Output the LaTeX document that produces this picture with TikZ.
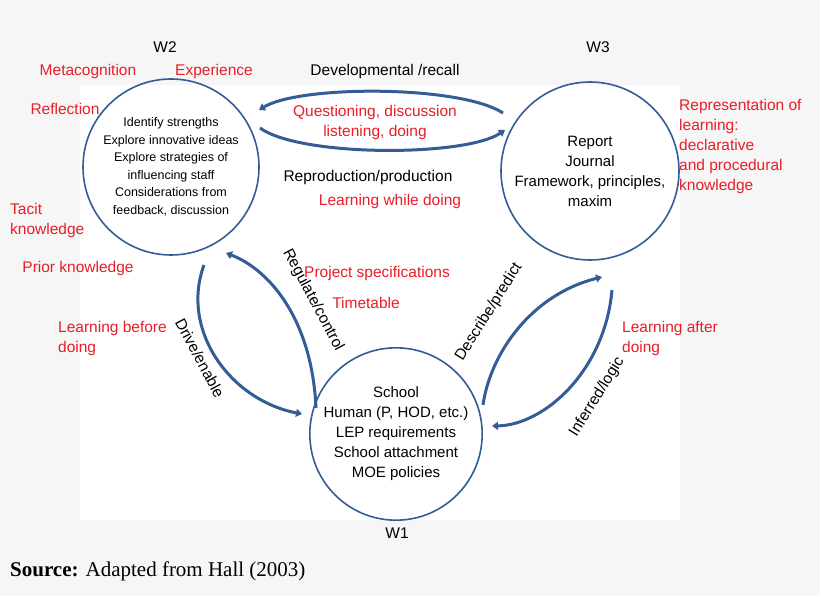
\documentclass[tikz,border=0pt]{standalone}
\usepackage{fontspec}
\setmainfont{Liberation Sans}
\newfontfamily\srcfont{Liberation Serif}
\usetikzlibrary{arrows.meta}
\definecolor{rd}{RGB}{232,30,40}
\definecolor{bl}{RGB}{52,92,150}
\begin{document}
\begin{tikzpicture}[x=1pt,y=-1pt,
  circ/.style={draw=bl,line width=1.6pt,circle,minimum size=#1,inner sep=0pt,align=center},
  lab/.style={font=\fontsize{15.5}{20}\selectfont,inner sep=0pt},
  rlab/.style={lab,text=rd},
  band/.style={draw=bl,line width=3pt,-{Triangle[width=8pt,length=6pt]}}]
\useasboundingbox (0,0) rectangle (820,596);
\fill[gray!7] (0,0) rectangle (820,596);
\fill[white] (80,85) rectangle (680,520);
\node[circ=176pt,font=\fontsize{12.5}{17.5}\selectfont] (w2) at (171,167) {Identify strengths\\Explore innovative ideas\\Explore strategies of\\influencing staff\\Considerations from\\feedback, discussion};
\node[circ=178pt,font=\fontsize{15}{20}\selectfont] (w3) at (590,171) {Report\\Journal\\Framework, principles,\\maxim};
\node[circ=170pt,font=\fontsize{15}{20}\selectfont] (w1) at (396,434) {School\\Human (P, HOD, etc.)\\LEP requirements\\School attachment\\MOE policies};
\node[lab] (t2) at (165,47) {W2};
\node[lab] (t3) at (598,47) {W3};
\node[lab] (t1) at (397,533) {W1};
\coordinate (a1) at (503,113); \coordinate (a2) at (259,110);
\coordinate (b1) at (260,128); \coordinate (b2) at (505,130);
\draw[band] (a1) .. controls (460,85) and (300,85) .. (a2);
\draw[band] (b1) .. controls (300,157) and (465,157) .. (b2);
\coordinate (c1) at (316,408); \coordinate (c2) at (226,253);
\coordinate (d1) at (204,265); \coordinate (d2) at (302,414);
\draw[band] (c1) .. controls (312,320) and (270,270) .. (c2);
\draw[band] (d1) .. controls (180,330) and (230,400) .. (d2);
\coordinate (e1) at (483,405); \coordinate (e2) at (602,277);
\coordinate (f1) at (612,290); \coordinate (f2) at (492,426);
\draw[band] (e1) .. controls (490,355) and (530,295) .. (e2);
\draw[band] (f1) .. controls (605,370) and (545,425) .. (f2);
\node[rlab] (n1) at (88,71) {Metacognition};
\node[rlab] (n2) at (214,71) {Experience};
\node[lab] (n3) at (385,71) {Developmental /recall};
\node[rlab] (n4) at (65,109) {Reflection};
\node[rlab,align=left,anchor=west] (n5) at (10,220) {Tacit\\knowledge};
\node[rlab] (n6) at (78,268) {Prior knowledge};
\node[rlab,align=left,anchor=west] (n7) at (58,338) {Learning before\\doing};
\node[rlab,align=left,anchor=west] (n8) at (679,146) {Representation of\\learning:\\declarative\\and procedural\\knowledge};
\node[rlab,align=left,anchor=west] (n9) at (622,338) {Learning after\\doing};
\node[rlab,align=center] (n10) at (375,122) {Questioning, discussion\\listening, doing};
\node[lab] (n11) at (368,177) {Reproduction/production};
\node[rlab] (n12) at (390,201) {Learning while doing};
\node[rlab] (n13) at (377,273) {Project specifications};
\node[rlab] (n14) at (366,303) {Timetable};
\node[lab,rotate=-62] (r1) at (313,300) {Regulate/control};
\node[lab,rotate=-62] (r2) at (200,358) {Drive/enable};
\node[lab,rotate=58] (r3) at (489,312) {Describe/predict};
\node[lab,rotate=58] (r4) at (597,397) {Inferred/logic};
\node[inner sep=0pt,anchor=west,font=\srcfont\fontsize{21}{24}\selectfont] (src) at (10,571) {\textbf{Source:} Adapted from Hall (2003)};
\end{tikzpicture}
\end{document}
